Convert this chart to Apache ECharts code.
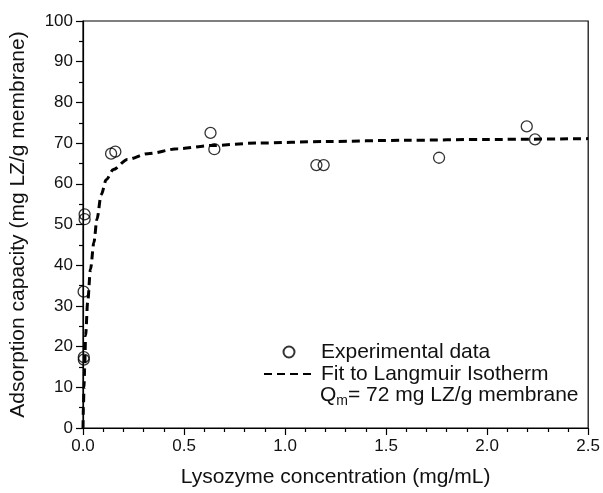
<!DOCTYPE html>
<html>
<head>
<meta charset="utf-8">
<script src="https://cdn.jsdelivr.net/npm/echarts@6/dist/echarts.min.js"></script>
<style>
  html, body { margin: 0; padding: 0; background: #fff; }
  #chart { width: 603px; height: 493px; }
</style>
</head>
<body>
<div id="chart"></div>
<script>
// experimental points: [concentration, capacity]
var expData = [
  [0.004, 16.8], [0.004, 17.4], [0.003, 33.5], [0.008, 51.3], [0.008, 52.5],
  [0.139, 67.4], [0.160, 67.9], [0.631, 72.5], [0.650, 68.5],
  [1.155, 64.6], [1.191, 64.6], [1.762, 66.4], [2.196, 74.1], [2.237, 70.9]
];
// dashed fit curve
var fitData = [
  [0, 0], [0.002, 5], [0.005, 10], [0.008, 14.5], [0.013, 22.7], [0.023, 30.9],
  [0.037, 39], [0.054, 45.6], [0.069, 51.3], [0.09, 57.3], [0.115, 61],
  [0.15, 63.5], [0.22, 66], [0.32, 67.4], [0.47, 68.6], [0.63, 69.4],
  [0.86, 70], [1.2, 70.4], [1.6, 70.7], [2.0, 70.9], [2.5, 71.1]
];
var seriesNames = ["Experimental data", "Fit to Langmuir Isotherm"];
var fitNote = "= 72 mg LZ/g membrane";

var chart = echarts.init(document.getElementById("chart"));
var font = "Liberation Sans, Arial, sans-serif";
var option = {
  backgroundColor: "#fff",
  animation: false,
  grid: {
    left: 82,
    right: 13,
    top: 21,
    bottom: 64,
    show: true,
    borderColor: "#000",
    borderWidth: 1.2
  },
  legend: {
    orient: "vertical",
    left: 263,
    top: 341,
    padding: 0,
    itemGap: 0,
    itemWidth: 50,
    itemHeight: 11,
    textStyle: { fontFamily: font, fontSize: 21, color: "#111", lineHeight: 22, padding: [0, 0, 0, 2] },
    data: [
      { name: seriesNames[0] },
      // the fit line has no markers, so hide the legend's point symbol
      { name: seriesNames[1], itemStyle: { opacity: 0 } }
    ]
  },
  graphic: [
    {
      type: "text",
      left: 320,
      top: 385,
      style: {
        text: "{q|Q}{s|m}{t|" + fitNote + "}",
        rich: {
          q: { fontFamily: font, fontSize: 21, fill: "#111" },
          s: { fontFamily: font, fontSize: 14, fill: "#111", padding: [12, 0, 0, 0] },
          t: { fontFamily: font, fontSize: 21, fill: "#111" }
        }
      }
    }
  ],
  xAxis: {
    type: "value",
    min: 0,
    max: 2.5,
    interval: 0.5,
    name: "Lysozyme concentration (mg/mL)",
    nameLocation: "middle",
    nameGap: 39,
    nameTextStyle: { fontFamily: font, fontSize: 21, color: "#111" },
    axisLine: { lineStyle: { color: "#000", width: 1.2 } },
    axisTick: { length: 7, lineStyle: { color: "#000", width: 1.2 } },
    minorTick: { show: true, splitNumber: 5, length: 4, lineStyle: { color: "#000", width: 1.2 } },
    axisLabel: {
      fontFamily: font, fontSize: 17, color: "#111", margin: 10,
      formatter: function (v) { return v.toFixed(1); }
    },
    splitLine: { show: false }
  },
  yAxis: {
    type: "value",
    min: 0,
    max: 100,
    interval: 10,
    name: "Adsorption capacity (mg LZ/g membrane)",
    nameLocation: "middle",
    nameGap: 54,
    nameTextStyle: { fontFamily: font, fontSize: 21, color: "#111" },
    axisLine: { show: true, lineStyle: { color: "#000", width: 1.2 } },
    axisTick: { show: true, length: 7, lineStyle: { color: "#000", width: 1.2 } },
    minorTick: { show: true, splitNumber: 2, length: 4, lineStyle: { color: "#000", width: 1.2 } },
    axisLabel: { fontFamily: font, fontSize: 17, color: "#111", margin: 10 },
    splitLine: { show: false }
  },
  series: [
    {
      name: seriesNames[0],
      type: "scatter",
      symbol: "circle",
      symbolSize: 11,
      itemStyle: { color: "rgba(255,255,255,0)", borderColor: "#000", borderWidth: 1.3 },
      data: expData,
      z: 3
    },
    {
      name: seriesNames[1],
      type: "line",
      smooth: 0.3,
      smoothMonotone: "x",
      symbol: "none",
      lineStyle: { color: "#000", width: 3, type: [8, 5] },
      data: fitData,
      z: 2
    }
  ]
};
chart.setOption(option);
</script>
</body>
</html>
